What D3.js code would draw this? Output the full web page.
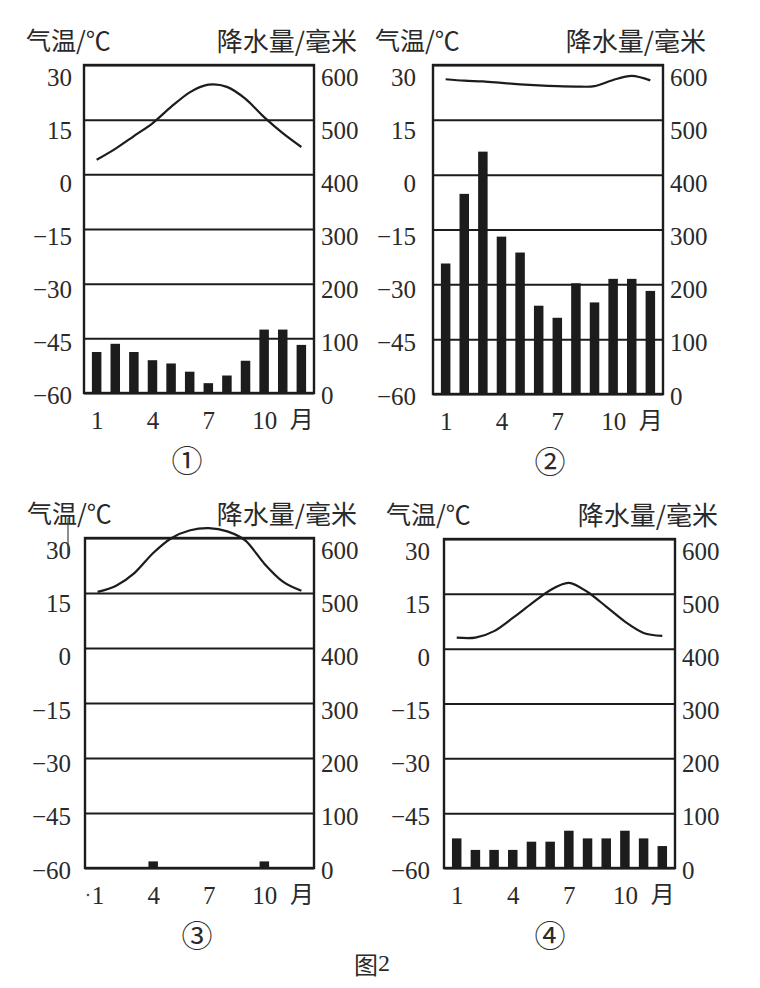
<!DOCTYPE html>
<html>
<head>
<meta charset="utf-8">
<script src="https://cdn.jsdelivr.net/npm/d3@7"></script>
<style>
body{margin:0;background:#fff}
.num{font-family:"Liberation Serif","Times New Roman",Tinos,"DejaVu Serif","Noto Serif",serif}
.cjk{font-family:"Noto Sans CJK SC","Noto Sans CJK JP",sans-serif}
</style>
</head>
<body>
<script>
var months = [1, 2, 3, 4, 5, 6, 7, 8, 9, 10, 11, 12];
var monthTicks = [1, 4, 7, 10, 12];
var tempTicks = [30, 15, 0, -15, -30, -45, -60];
var precipTicks = [600, 500, 400, 300, 200, 100, 0];
var panelNames = ["①", "②", "③", "④"];

// monthly values
var temp1 = [4, 7, 10.5, 14, 18.5, 22.5, 24.6, 24, 20.7, 15.7, 11.3, 7.5];
var precip1 = [75, 90, 75, 60, 54, 39, 18, 32, 59, 116, 116, 88];
var temp2 = [26.1, 25.7, 25.5, 25.1, 24.7, 24.4, 24.2, 24.1, 24.2, 25.9, 27.0, 25.8];
var precip2 = [238, 365, 442, 287, 258, 161, 139, 202, 167, 210, 210, 188];
var temp3 = [15.3, 17, 20.5, 25.9, 30, 32.1, 32.7, 31.8, 29.2, 23, 18.1, 15.6];
var precip3 = [0, 0, 0, 12, 0, 0, 0, 0, 0, 12, 0, 0];
var temp4 = [3.0, 3.0, 4.8, 8.4, 12.3, 16.0, 18.0, 15.5, 11.5, 7.4, 4.3, 3.5];
var precip4 = [54, 33, 33, 33, 48, 48, 68, 54, 54, 68, 54, 40];

var w = 760;
var h = 988;
var ink = "#1c1c1c";
var txt = "#2a2a2a";

var svg = d3.select("body")
    .append("svg")
    .attr("width", w)
    .attr("height", h);

function minus(d) {
    return String(d).replace("-", "\u2212");
}

function numAxis(s) {
    s.select(".domain").remove();
    s.attr("font-family", null)
        .attr("font-size", null)
        .attr("color", txt)
        .style("font-size", "25px");
    s.selectAll("text").attr("class", "num");
}

function drawPanel(p) {
    var g = svg.append("g");

    var x = d3.scalePoint().domain(months).range([p.x0, p.x1]).padding(0.68);
    var yT = d3.scaleLinear().domain([-60, 30]).range([p.y1, p.y0]);
    var yP = d3.scaleLinear().domain([0, 600]).range([p.y1, p.y0]);
    // tick labels sit a little below their lines, more so near the top
    var labT = yT.copy().range([p.y1 + 2, p.y0 + 12]);
    var labP = yP.copy().range([p.y1 + 2, p.y0 + 12]);

    // horizontal grid lines
    g.append("g")
        .attr("transform", "translate(" + p.x0 + ",0)")
        .call(d3.axisLeft(yT).tickValues(tempTicks).tickSize(-(p.x1 - p.x0)).tickFormat(""))
        .call(function(s) { s.select(".domain").remove(); })
        .selectAll("line")
        .attr("stroke", ink)
        .attr("stroke-width", 2);

    // precipitation bars
    g.selectAll("rect.bar")
        .data(p.precip)
        .enter()
        .append("rect")
        .attr("class", "bar")
        .attr("x", function(d, i) { return x(months[i]) - 4.75; })
        .attr("width", 9.5)
        .attr("y", function(d) { return yP(d); })
        .attr("height", function(d) { return yP(0) - yP(d); })
        .attr("fill", ink);

    // frame
    g.append("rect")
        .attr("x", p.x0)
        .attr("y", p.y0)
        .attr("width", p.x1 - p.x0)
        .attr("height", p.y1 - p.y0)
        .attr("fill", "none")
        .attr("stroke", ink)
        .attr("stroke-width", 2.4);

    // temperature curve
    var line = d3.line()
        .x(function(d, i) { return x(months[i]); })
        .y(function(d) { return yT(d); })
        .curve(d3.curveCardinal.tension(0.1));

    g.append("path")
        .datum(p.temp)
        .attr("d", line)
        .attr("fill", "none")
        .attr("stroke", ink)
        .attr("stroke-width", 2.2);

    // left temperature labels
    g.append("g")
        .attr("transform", "translate(" + (p.x0 - p.gap) + ",0)")
        .call(d3.axisLeft(labT).tickValues(tempTicks).tickSize(0).tickPadding(0).tickFormat(minus))
        .call(numAxis);

    // right precipitation labels
    g.append("g")
        .attr("transform", "translate(" + (p.x1 + 7) + ",0)")
        .call(d3.axisRight(labP).tickValues(precipTicks).tickSize(0).tickPadding(0))
        .call(numAxis);

    // month labels
    var mAxis = g.append("g")
        .attr("transform", "translate(0," + (p.y1 + 27) + ")")
        .call(d3.axisBottom(x).tickValues(monthTicks).tickSize(0).tickPadding(0)
            .tickFormat(function(d) { return d === 12 ? "月" : d; }))
        .call(numAxis);
    mAxis.selectAll("text")
        .attr("dy", "0.35em")
        .filter(function(d) { return d === 12; })
        .attr("class", "cjk")
        .style("font-size", "24px");

    // axis titles
    g.append("text")
        .attr("class", "cjk")
        .attr("x", p.x0 - 58)
        .attr("y", p.y0 - 26)
        .attr("dominant-baseline", "central")
        .style("font-size", "25px")
        .attr("fill", txt)
        .text("气温/℃");

    g.append("text")
        .attr("class", "cjk")
        .attr("x", p.x1 + 43)
        .attr("y", p.y0 - 26)
        .attr("dominant-baseline", "central")
        .attr("text-anchor", "end")
        .style("font-size", "26px")
        .attr("fill", txt)
        .text("降水量/毫米");

    // circled panel number
    g.append("text")
        .attr("class", "cjk")
        .attr("x", p.nx)
        .attr("y", p.y1 + 65)
        .attr("dominant-baseline", "central")
        .attr("text-anchor", "middle")
        .style("font-size", "31px")
        .attr("fill", txt)
        .text(p.name);

    return g;
}

drawPanel({ x0: 84, x1: 314, y0: 65, y1: 393, gap: 12, nx: 187, name: panelNames[0], temp: temp1, precip: precip1 });
drawPanel({ x0: 433, x1: 663, y0: 65, y1: 394, gap: 17, nx: 550, name: panelNames[1], temp: temp2, precip: precip2 });
var p3 = drawPanel({ x0: 85, x1: 314, y0: 538, y1: 868, gap: 14, nx: 197, name: panelNames[2], temp: temp3, precip: precip3 });
drawPanel({ x0: 444, x1: 675, y0: 539, y1: 868, gap: 14, nx: 550, name: panelNames[3], temp: temp4, precip: precip4 });

// small scan marks in panel 3
p3.append("line")
    .attr("x1", 68).attr("x2", 68)
    .attr("y1", 518).attr("y2", 555)
    .attr("stroke", "#444")
    .attr("stroke-width", 1.2);
p3.append("circle")
    .attr("cx", 88).attr("cy", 895).attr("r", 1.3)
    .attr("fill", "#555");

// figure caption
var cap = svg.append("text")
    .attr("x", 372)
    .attr("y", 963)
    .attr("dominant-baseline", "central")
    .attr("text-anchor", "middle")
    .style("font-size", "24px")
    .attr("fill", txt);
cap.append("tspan").attr("class", "cjk").text("图");
cap.append("tspan").attr("class", "num").text("2");
</script>
</body>
</html>
